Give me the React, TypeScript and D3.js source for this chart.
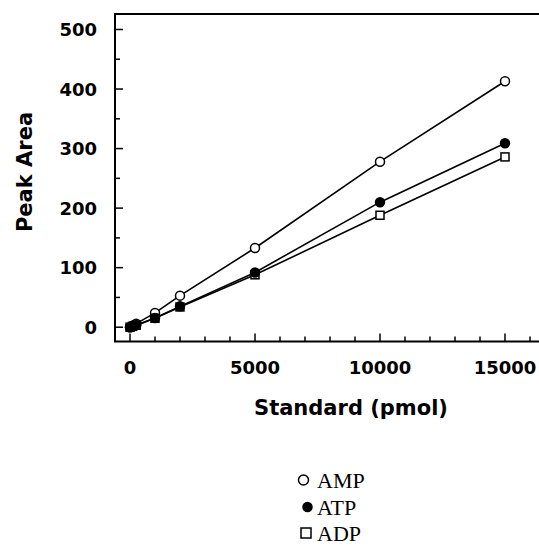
import React from "react";
import * as d3 from "d3";

const standards = [0, 100, 250, 1000, 2000, 5000, 10000, 15000];
const amp = [0, 2.5, 6, 24, 53, 133, 278, 413];
const atp = [0, 1.5, 3.5, 15.5, 35, 92, 210, 309];
const adp = [0, 1.5, 3.5, 15, 34, 88, 188, 286];

const yTicks = [0, 100, 200, 300, 400, 500];
const yMinor = [50, 150, 250, 350, 450];
const xTicks = [0, 5000, 10000, 15000];
const xMinor = [1000, 2000, 3000, 4000, 6000, 7000, 8000, 9000, 11000, 12000, 13000, 14000, 16000];

const legendNames = ["AMP", "ATP", "ADP"];

const W = 539;
const H = 546;
const left = 115;
const right = 539;
const top = 14;
const bottom = 341.5;

const tickFont = "'DejaVu Sans', sans-serif";

const Marker = ({ kind, x, y, size }) => {
    if (kind === "square") {
        return <rect x={x - size} y={y - size} width={size * 2} height={size * 2} fill="white" stroke="black" strokeWidth={1.5} />;
    }
    return <circle cx={x} cy={y} r={size} fill={kind === "dot" ? "black" : "white"} stroke="black" strokeWidth={1.5} />;
};

const Series = ({ values, kind, x, y }) => {
    const line = d3
        .line()
        .x((d, i) => x(standards[i]))
        .y(d => y(d));
    return (
        <g>
            <path d={line(values)} fill="none" stroke="black" strokeWidth={1.6} />
            {values.map((v, i) => (
                <Marker key={i} kind={kind} x={x(standards[i])} y={y(v)} size={kind === "square" ? 4 : 4.5} />
            ))}
        </g>
    );
};

const App = () => {
    const x = d3.scaleLinear().domain([-600, 16360]).range([left, right]);
    const y = d3.scaleLinear().domain([-24, 526]).range([bottom, top]);

    const kinds = ["circle", "dot", "square"];
    const legendPos = [[303.5, 480], [307.5, 507], [306, 533]];

    return (
        <svg width={W} height={H} style={{ position: "absolute", left: 0, top: 0, background: "white" }}>
            {/* frame: left axis, bottom axis, top line */}
            <line x1={left} x2={left} y1={top} y2={bottom} stroke="black" strokeWidth={2} />
            <line x1={left - 1} x2={right} y1={bottom} y2={bottom} stroke="black" strokeWidth={2} />
            <line x1={left - 1} x2={right} y1={top} y2={top} stroke="black" strokeWidth={2} />

            {yTicks.map(t => (
                <g key={"y" + t}>
                    <line x1={left} x2={left + 8} y1={y(t)} y2={y(t)} stroke="black" strokeWidth={1.5} />
                    <text x={left - 18} y={y(t)} dy="0.36em" textAnchor="end" fontFamily={tickFont} fontWeight="bold" fontSize={18}>{t}</text>
                </g>
            ))}
            {yMinor.map(t => (
                <line key={"ym" + t} x1={left} x2={left + 5} y1={y(t)} y2={y(t)} stroke="black" strokeWidth={1.5} />
            ))}
            {xTicks.map(t => (
                <g key={"x" + t}>
                    <line x1={x(t)} x2={x(t)} y1={bottom} y2={bottom - 8} stroke="black" strokeWidth={1.5} />
                    <text x={x(t)} y={374} textAnchor="middle" fontFamily={tickFont} fontWeight="bold" fontSize={18}>{t}</text>
                </g>
            ))}
            {xMinor.map(t => (
                <line key={"xm" + t} x1={x(t)} x2={x(t)} y1={bottom} y2={bottom - 5} stroke="black" strokeWidth={1.5} />
            ))}

            <text x={351} y={415} textAnchor="middle" fontFamily={tickFont} fontWeight="bold" fontSize={21}>Standard (pmol)</text>
            <text transform={`translate(32 172) rotate(-90)`} textAnchor="middle" fontFamily={tickFont} fontWeight="bold" fontSize={21}>Peak Area</text>

            <Series values={amp} kind="circle" x={x} y={y} />
            <Series values={adp} kind="square" x={x} y={y} />
            <Series values={atp} kind="dot" x={x} y={y} />

            {legendNames.map((name, i) => (
                <g key={name}>
                    <Marker kind={kinds[i]} x={legendPos[i][0]} y={legendPos[i][1]} size={kinds[i] === "dot" ? 4.5 : 5} />
                    <text x={317} y={legendPos[i][1] + 7.5} fontFamily="'Liberation Serif', 'Times New Roman', serif" fontSize={22}>{name}</text>
                </g>
            ))}
        </svg>
    );
};

export default App;
